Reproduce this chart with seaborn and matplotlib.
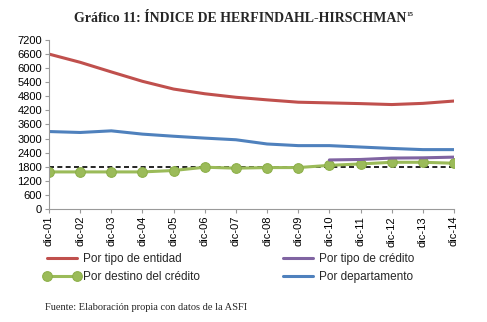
import numpy as np
import pandas as pd
import matplotlib
matplotlib.use("Agg")
import matplotlib.pyplot as plt
import seaborn as sns

periods = ["dic-01", "dic-02", "dic-03", "dic-04", "dic-05", "dic-06", "dic-07",
           "dic-08", "dic-09", "dic-10", "dic-11", "dic-12", "dic-13", "dic-14"]
tipo_entidad = [6600, 6250, 5840, 5440, 5110, 4910, 4760, 4650, 4550, 4520, 4490, 4450, 4500, 4600]
tipo_credito = [None] * 9 + [2090, 2110, 2170, 2180, 2210]
destino_credito = [1580, 1580, 1580, 1580, 1640, 1780, 1740, 1765, 1765, 1860, 1920, 1990, 1990, 1950]
departamento = [3300, 3260, 3330, 3190, 3100, 3020, 2950, 2770, 2700, 2700, 2640, 2580, 2530, 2530]
umbral = [1800] * 14
y_ticks = list(range(0, 7201, 600))

sns.set_theme(style="white")
plt.rcParams['font.family'] = ['Liberation Sans', 'DejaVu Sans']

fig = plt.figure(figsize=(4.87, 3.22), dpi=100)
ax = fig.add_axes([49/487, 1-209/322, (454-49)/487, (209-40)/322])

x = np.arange(len(periods))
df = pd.DataFrame({"x": x, "entidad": tipo_entidad, "credito": tipo_credito,
                   "destino": destino_credito, "depto": departamento, "umbral": umbral})
df = df.astype(float)

sns.lineplot(data=df, x="x", y="umbral", ax=ax, color="black", lw=1.2,
             linestyle=(0, (3, 2)), legend=False)
sns.lineplot(data=df, x="x", y="entidad", ax=ax, color="#C0504D", lw=2.2, label="Por tipo de entidad")
sns.lineplot(data=df, x="x", y="destino", ax=ax, color="#9BBB59", lw=2.2, marker="o",
             markersize=7, markeredgecolor="#8CAF48", label="Por destino del crédito")
sns.lineplot(data=df.dropna(subset=["credito"]), x="x", y="credito", ax=ax, color="#8064A2",
             lw=2.2, label="Por tipo de crédito")
sns.lineplot(data=df, x="x", y="depto", ax=ax, color="#4F81BD", lw=2.2, label="Por departamento")

ax.set_xlim(0, len(periods) - 1)
ax.set_ylim(0, 7200)
ax.set_yticks(y_ticks)
ax.set_yticklabels([str(t) for t in y_ticks], fontsize=8)
ax.set_xticks(x)
ax.set_xticklabels(periods, rotation=90, fontsize=8)
ax.set_xlabel("")
ax.set_ylabel("")
for s in ["top", "right"]:
    ax.spines[s].set_visible(False)
for s in ["left", "bottom"]:
    ax.spines[s].set_color("#9a9a9a")
    ax.spines[s].set_linewidth(0.8)
ax.tick_params(axis="both", which="both", length=3, width=0.8, color="#9a9a9a",
               bottom=True, left=True, pad=2, labelcolor="black")

handles, labels = ax.get_legend_handles_labels()
order = ["Por tipo de entidad", "Por destino del crédito", "Por tipo de crédito", "Por departamento"]
hd = dict(zip(labels, handles))
ax.legend([hd[o] for o in order], order, ncol=2, loc="upper left",
          bbox_to_anchor=(43/487, 1-253/322), bbox_transform=fig.transFigure,
          frameon=False, fontsize=8.5, handlelength=3.2, handletextpad=0.2,
          columnspacing=6.7, labelspacing=0.55, borderaxespad=0, borderpad=0,
          numpoints=2)

t = fig.text(240/487, 1-18/322, "Gráfico 11: ÍNDICE DE HERFINDAHL-HIRSCHMAN",
             ha="center", va="center", fontsize=10, fontweight="bold",
             family=["Liberation Serif", "DejaVu Serif"])
fig.canvas.draw()
bb = t.get_window_extent()
fig.text(bb.x1 / fig.bbox.width + 0.001, bb.y1 / fig.bbox.height - 0.002, "15",
         ha="left", va="top", fontsize=5, fontweight="bold",
         family=["Liberation Serif", "DejaVu Serif"])

fig.text(45/487, 1-308/322, "Fuente: Elaboración propia con datos de la ASFI",
         ha="left", va="center", fontsize=7.5, family=["Liberation Serif", "DejaVu Serif"])

fig.savefig("out.png", dpi=100)
